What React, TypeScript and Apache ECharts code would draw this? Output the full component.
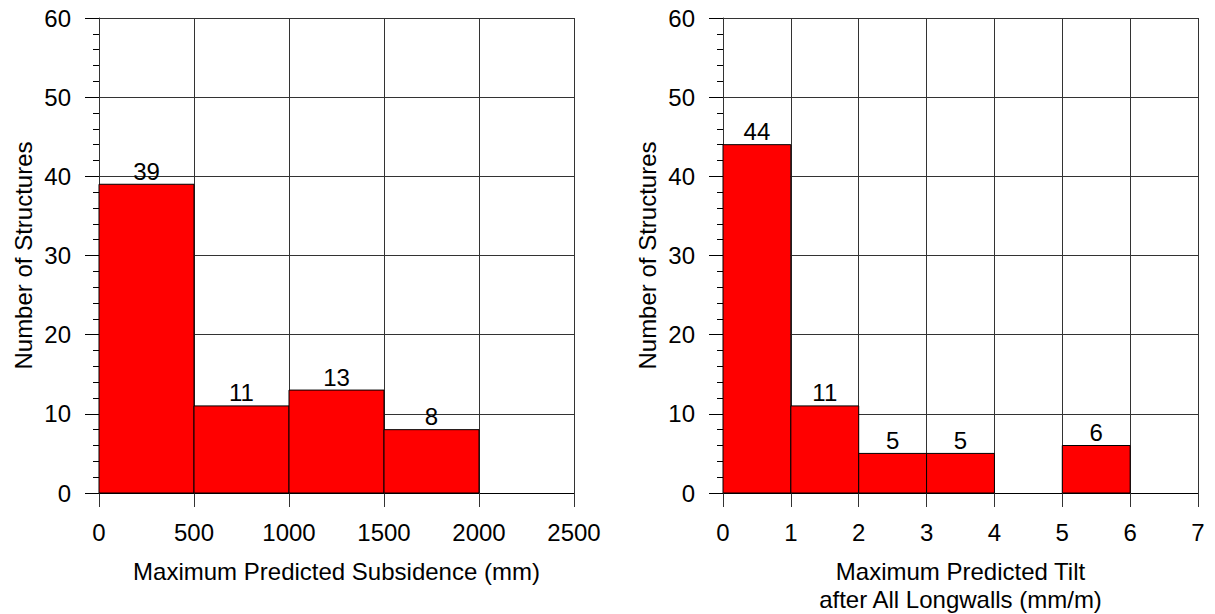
import React, { useEffect, useRef } from "react";
import * as echarts from "echarts";

const subsEdges = [0, 500, 1000, 1500, 2000];
const subsCounts = [39, 11, 13, 8];
const tiltEdges = [0, 1, 2, 3, 4, 5, 6, 7];
const tiltCounts = [44, 11, 5, 5, 0, 6, 0];
const yName = "Number of Structures";
const subsName = "Maximum Predicted Subsidence (mm)";
const tiltName = "Maximum Predicted Tilt\nafter All Longwalls (mm/m)";

const FONT = "Liberation Sans, Arial, sans-serif";
const GRID_COLOR = "#333";
const FS = 24;

function bins(edges: number[], counts: number[]) {
  const out: number[][] = [];
  for (let i = 0; i < counts.length; i++) {
    if (counts[i] > 0) out.push([edges[i], edges[i + 1], counts[i]]);
  }
  return out;
}

function renderItem(params: any, api: any) {
  const x0 = api.value(0);
  const x1 = api.value(1);
  const v = api.value(2);
  const p0 = api.coord([x0, v]);
  const p1 = api.coord([x1, 0]);
  return {
    type: "group",
    children: [
      {
        type: "rect",
        shape: { x: p0[0], y: p0[1], width: p1[0] - p0[0], height: p1[1] - p0[1] },
        style: { fill: "#ff0000", stroke: "#000", lineWidth: 1 },
      },
      {
        type: "text",
        x: (p0[0] + p1[0]) / 2,
        y: p0[1] - 1,
        style: {
          text: String(v),
          fill: "#000",
          font: FS + "px " + FONT,
          align: "center",
          verticalAlign: "bottom",
        },
      },
    ],
  };
}

function xAxis(gridIndex: number, max: number, interval: number, name: string) {
  return {
    type: "value",
    gridIndex,
    min: 0,
    max,
    interval,
    name,
    nameLocation: "middle",
    nameGap: 64,
    nameTextStyle: { fontSize: FS, fontFamily: FONT, color: "#000", lineHeight: 28 },
    axisLine: { show: true, lineStyle: { color: "#000", width: 1 } },
    axisTick: { show: true, length: 14, lineStyle: { color: "#333" } },
    axisLabel: {
      fontSize: FS,
      fontFamily: FONT,
      color: "#000",
      margin: 27,
      formatter: (v: number) => String(v),
    },
    splitLine: { show: true, lineStyle: { color: GRID_COLOR, width: 1 } },
  };
}

function yAxis(gridIndex: number) {
  return {
    type: "value",
    gridIndex,
    min: 0,
    max: 60,
    interval: 10,
    name: yName,
    nameLocation: "middle",
    nameGap: 64,
    nameTextStyle: { fontSize: FS, fontFamily: FONT, color: "#000" },
    axisLine: { show: true, lineStyle: { color: "#333", width: 1 } },
    axisTick: { show: true, length: 14, lineStyle: { color: "#000" } },
    minorTick: { show: true, splitNumber: 5, length: 6, lineStyle: { color: "#000" } },
    axisLabel: { fontSize: FS, fontFamily: FONT, color: "#000", margin: 28 },
    splitLine: { show: true, lineStyle: { color: GRID_COLOR, width: 1 } },
  };
}

export default function App() {
  const ref = useRef<HTMLDivElement>(null);
  useEffect(() => {
    if (!ref.current) return;
    const chart = echarts.init(ref.current, undefined, { renderer: "svg" });
    chart.setOption({
      animation: false,
      backgroundColor: "#fff",
      grid: [
        { left: 99, top: 18, width: 475, height: 475, outerBoundsMode: "none", containLabel: false },
        { left: 723, top: 18, width: 475, height: 475, outerBoundsMode: "none", containLabel: false },
      ],
      xAxis: [xAxis(0, 2500, 500, subsName), xAxis(1, 7, 1, tiltName)],
      yAxis: [yAxis(0), yAxis(1)],
      series: [
        {
          type: "custom",
          xAxisIndex: 0,
          yAxisIndex: 0,
          renderItem,
          data: bins(subsEdges, subsCounts),
          z: 10,
        },
        {
          type: "custom",
          xAxisIndex: 1,
          yAxisIndex: 1,
          renderItem,
          data: bins(tiltEdges, tiltCounts),
          z: 10,
        },
      ],
    });
    return () => chart.dispose();
  }, []);
  return (
    <div
      ref={ref}
      style={{ position: "fixed", left: 0, top: 0, width: 1215, height: 614 }}
    />
  );
}
